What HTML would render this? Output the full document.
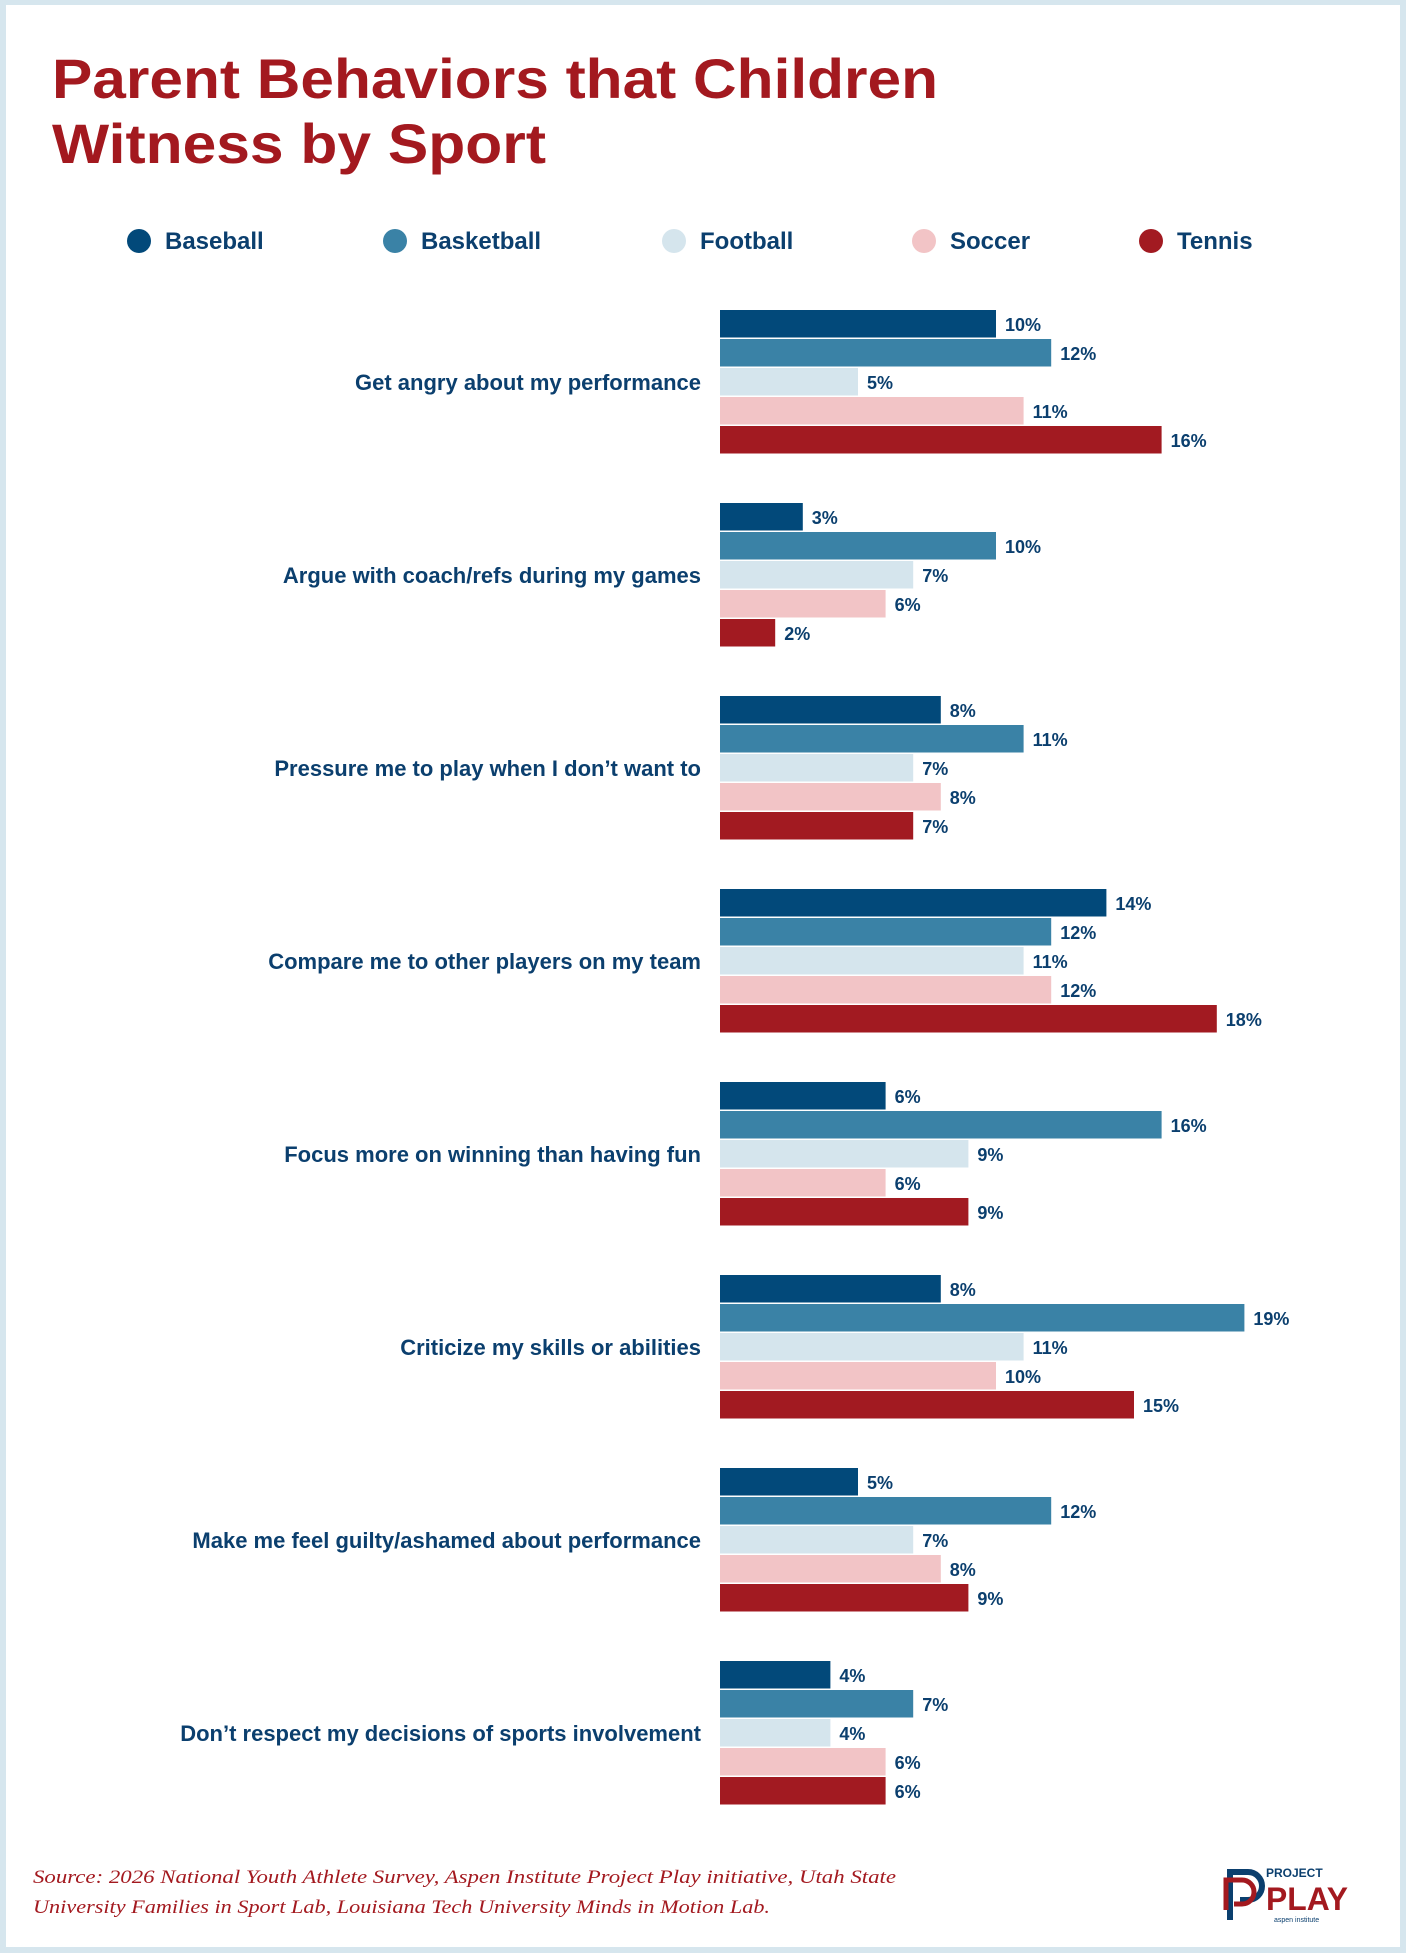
<!DOCTYPE html>
<html><head><meta charset="utf-8"><style>
html,body{margin:0;padding:0;background:#d6e6ee;}
svg{display:block;}
</style></head><body>
<svg width="1406" height="1953" viewBox="0 0 1406 1953" xmlns="http://www.w3.org/2000/svg">
<rect x="6" y="5" width="1394" height="1942" fill="#ffffff"/>
<g font-family="Liberation Sans, sans-serif" font-weight="bold" fill="#a3191f">
<text x="52" y="98" font-size="56" textLength="886" lengthAdjust="spacingAndGlyphs">Parent Behaviors that Children</text>
<text x="52" y="163" font-size="56" textLength="494" lengthAdjust="spacingAndGlyphs">Witness by Sport</text>
</g>
<g id="legend"></g>
<g id="bars"></g>
<g font-family="Liberation Serif, serif" font-style="italic" fill="#a3191f" font-size="19">
<text x="33" y="1883" textLength="863" lengthAdjust="spacingAndGlyphs">Source: 2026 National Youth Athlete Survey, Aspen Institute Project Play initiative, Utah State</text>
<text x="33" y="1913" textLength="737" lengthAdjust="spacingAndGlyphs">University Families in Sport Lab, Louisiana Tech University Minds in Motion Lab.</text>
</g>
<g>
<path d="M1230 1920 V1872 H1248 A14 14 0 0 1 1248 1900 H1240" fill="none" stroke="#0b3f6e" stroke-width="6"/>
<path d="M1226 1910 V1880 H1242 A12 12 0 0 1 1242 1904 H1234" fill="none" stroke="#a3191f" stroke-width="5"/>
<text x="1266" y="1877" font-family="Liberation Sans, sans-serif" font-weight="bold" font-size="12" fill="#0b3f6e">PROJECT</text>
<text x="1266" y="1910" font-family="Liberation Sans, sans-serif" font-weight="bold" font-size="32" fill="#a3191f" textLength="82" lengthAdjust="spacingAndGlyphs">PLAY</text>
<text x="1274" y="1922" font-family="Liberation Sans, sans-serif" font-size="7" fill="#0b3f6e">aspen institute</text>
</g>
</svg>
<script>
const categories = ["Get angry about my performance","Argue with coach/refs during my games","Pressure me to play when I don\u2019t want to","Compare me to other players on my team","Focus more on winning than having fun","Criticize my skills or abilities","Make me feel guilty/ashamed about performance","Don\u2019t respect my decisions of sports involvement"];
const seriesNames = ["Baseball","Basketball","Football","Soccer","Tennis"];
const baseball = [10,3,8,14,6,8,5,4];
const basketball = [12,10,11,12,16,19,12,7];
const football = [5,7,7,11,9,11,7,4];
const soccer = [11,6,8,12,6,10,8,6];
const tennis = [16,2,7,18,9,15,9,6];
const series = [baseball,basketball,football,soccer,tennis];
const colors = ["#02497a","#3a82a6","#d5e5ed","#f2c4c6","#a21a21"];
const NS="http://www.w3.org/2000/svg";
const x0=720, pxPer=27.6, groupTop=310, groupPitch=193, barPitch=29, barH=27.5;
function xs(v){return v*pxPer;}
function mk(tag,attrs,parent){const e=document.createElementNS(NS,tag);for(const k in attrs)e.setAttribute(k,attrs[k]);parent.appendChild(e);return e;}
const leg=document.getElementById('legend');
const legCx=[139,395,674,924,1151];
seriesNames.forEach((n,i)=>{
  const g=mk('g',{},leg);
  
  
  mk('circle',{cx:legCx[i],cy:241,r:12,fill:colors[i]},g);
  const t=mk('text',{x:legCx[i]+26,y:249,'font-family':'Liberation Sans, sans-serif','font-weight':'bold','font-size':24,fill:'#0b3f6e'},g);
  t.textContent=n;
});
const bars=document.getElementById('bars');
categories.forEach((c,ci)=>{
  const gy=groupTop+ci*groupPitch;
  const g=mk('g',{},bars);
  
  
  const lab=mk('text',{x:701,y:gy+2*barPitch+barH/2+8,'text-anchor':'end','font-family':'Liberation Sans, sans-serif','font-weight':'bold','font-size':22,fill:'#0b3f6e'},g);
  
  
  lab.textContent=c;
  series.forEach((s,si)=>{
    const y=gy+si*barPitch;
    const r=mk('rect',{x:x0,y:y,width:xs(s[ci]),height:barH,fill:colors[si]},g);
    
    
    const t=mk('text',{x:x0+xs(s[ci])+9,y:y+barH/2+7,'font-family':'Liberation Sans, sans-serif','font-weight':'bold','font-size':18,fill:'#0b3f6e'},g);
    
    
    t.textContent=s[ci]+'%';
  });
});
</script>
</body></html>
